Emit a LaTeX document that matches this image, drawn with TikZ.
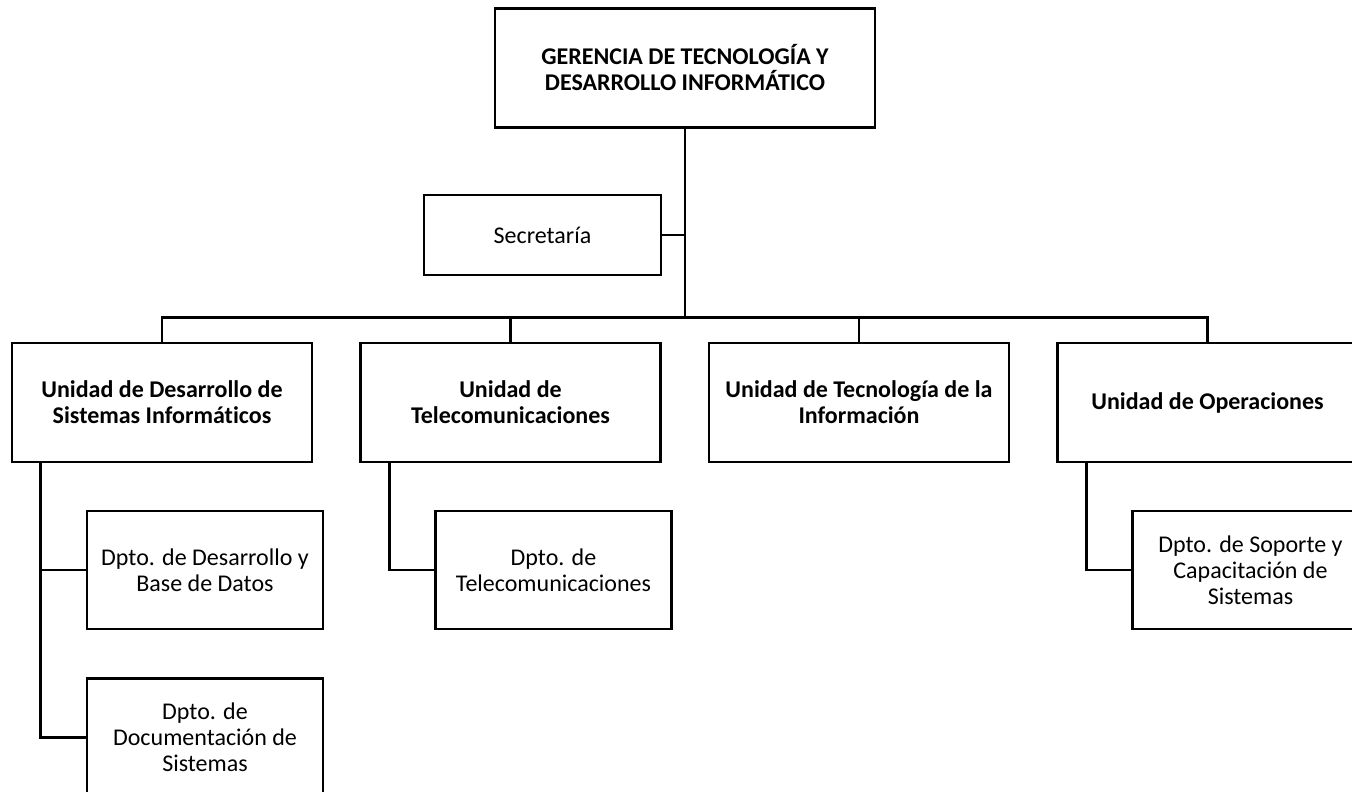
\documentclass[tikz,border=0pt]{standalone}
\usepackage{fontspec}
\setmainfont{Carlito}[Ligatures=NoCommon]
\usetikzlibrary{positioning}

\begin{document}
\begin{tikzpicture}[x=1pt ,y=1pt ,node distance =167.5pt and 348.5pt ,on grid ,
		line width =2.8pt ,
		unitbox/.style ={ rectangle ,draw ,black ,align =center ,
			font =\fontsize{24}{26}\selectfont\bfseries ,
			minimum width =300pt ,minimum height =119pt ,inner sep =0pt},
		deptbox/.style ={ rectangle ,draw ,black ,align =center ,
			font =\fontsize{24}{26}\selectfont ,
			minimum width =236pt ,minimum height =118pt ,inner sep =0pt}]
		\useasboundingbox (0,0) rectangle (1352,-792);
		\node[unitbox ,minimum width =380pt] (ger) at (685,-68)
			{GERENCIA DE TECNOLOG\'IA Y\\DESARROLLO INFORM\'ATICO};
		\node[deptbox ,minimum width =237pt ,minimum height =80pt] (sec) at (542.5,-235) {Secretar\'ia};
		\node[unitbox] (u1) at (162,-402.5) {Unidad de Desarrollo de\\Sistemas Inform\'aticos};
		\node[unitbox] (u2) [right = of u1] {Unidad de\\Telecomunicaciones};
		\node[unitbox] (u3) [right = of u2] {Unidad de Tecnolog\'ia de la\\Informaci\'on};
		\node[unitbox] (u4) [right = of u3] {Unidad de Operaciones};
		\node[deptbox] (d1) [below right = 167.5pt and 43pt of u1] {Dpto. de Desarrollo y\\Base de Datos};
		\node[deptbox] (d2) [below = of d1] {Dpto. de\\Documentaci\'on de\\Sistemas};
		\node[deptbox] (d3) [below right = 167.5pt and 43pt of u2] {Dpto. de\\Telecomunicaciones};
		\node[deptbox] (d4) [below right = 167.5pt and 43pt of u4] {Dpto. de Soporte y\\Capacitaci\'on de\\Sistemas};
		% lineas de mando
		\coordinate (bar) at ([yshift=24pt]u1.north);
		\draw (ger) -- (ger |- bar);
		\draw (sec.east) -- (sec.east -| ger);
		\draw (u1.north) -- (bar) -| (u4.north);
		\foreach \u in {u2,u3}
			\draw (\u.north) -- (\u.north |- bar);
		\draw ([xshift=30pt]u1.south west) |- (d1.west);
		\draw ([xshift=30pt]u1.south west) |- (d2.west);
		\draw ([xshift=30pt]u2.south west) |- (d3.west);
		\draw ([xshift=30pt]u4.south west) |- (d4.west);
	\end{tikzpicture}
\end{document}
